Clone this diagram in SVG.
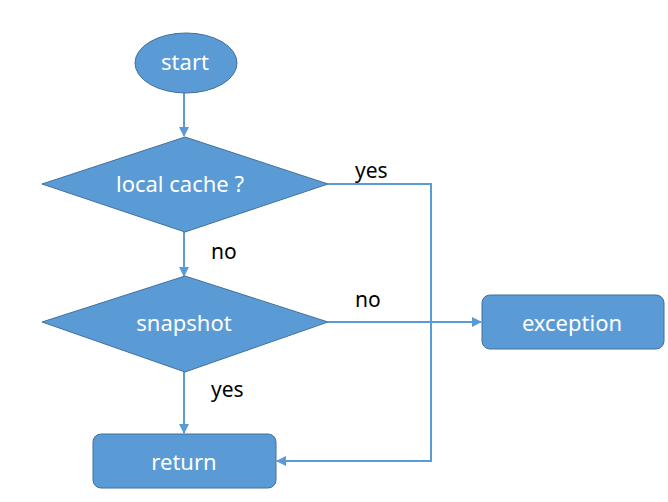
<svg xmlns="http://www.w3.org/2000/svg" width="668" height="502" viewBox="0 0 668 502">
<style>
.node{fill:#5B9BD5;stroke:#41719C;stroke-width:1}
.nt{fill:#fff;font-family:"Noto Sans","Liberation Sans",sans-serif;font-size:22px;text-anchor:middle;dominant-baseline:central}
.lbl{fill:#000;font-family:"Noto Sans","Liberation Sans",sans-serif;font-size:21px}
.edge{fill:none;stroke:#5B9BD5;stroke-width:2}
</style>
<defs>
<marker id="arr" viewBox="0 0 10 10" refX="9" refY="5" markerWidth="5" markerHeight="5" orient="auto">
<path d="M0,0 L10,5 L0,10 Z" fill="#5B9BD5"/>
</marker>
</defs>
<rect width="668" height="502" fill="#fff"/>
<g id="connectors">
<line class="edge" x1="184" y1="93" x2="184" y2="136" marker-end="url(#arr)"/>
<line class="edge" x1="184" y1="232" x2="184" y2="276" marker-end="url(#arr)"/>
<line class="edge" x1="184" y1="372" x2="184" y2="433" marker-end="url(#arr)"/>
<polyline class="edge" points="328,184 431,184 431,461 277,461" marker-end="url(#arr)"/>
<line class="edge" x1="328" y1="322" x2="481" y2="322" marker-end="url(#arr)"/>
<text class="lbl" x="355" y="178">yes</text>
<text class="lbl" x="211" y="259">no</text>
<text class="lbl" x="355" y="307">no</text>
<text class="lbl" x="211" y="397">yes</text>
</g>
<g id="start">
<ellipse class="node" cx="186" cy="63" rx="51" ry="30"/>
<text class="nt" x="185" y="61">start</text>
</g>
<g id="local-cache">
<polygon class="node" points="42,184 185,137 328,184 185,232"/>
<text class="nt" x="180" y="183">local cache ?</text>
</g>
<g id="snapshot">
<polygon class="node" points="42,322 185,276 328,322 185,372"/>
<text class="nt" x="184" y="322">snapshot</text>
</g>
<g id="exception">
<rect class="node" x="482" y="295" width="182" height="54" rx="8"/>
<text class="nt" x="572" y="322">exception</text>
</g>
<g id="return">
<rect class="node" x="93" y="434" width="183" height="54" rx="8"/>
<text class="nt" x="184" y="461">return</text>
</g>
</svg>
